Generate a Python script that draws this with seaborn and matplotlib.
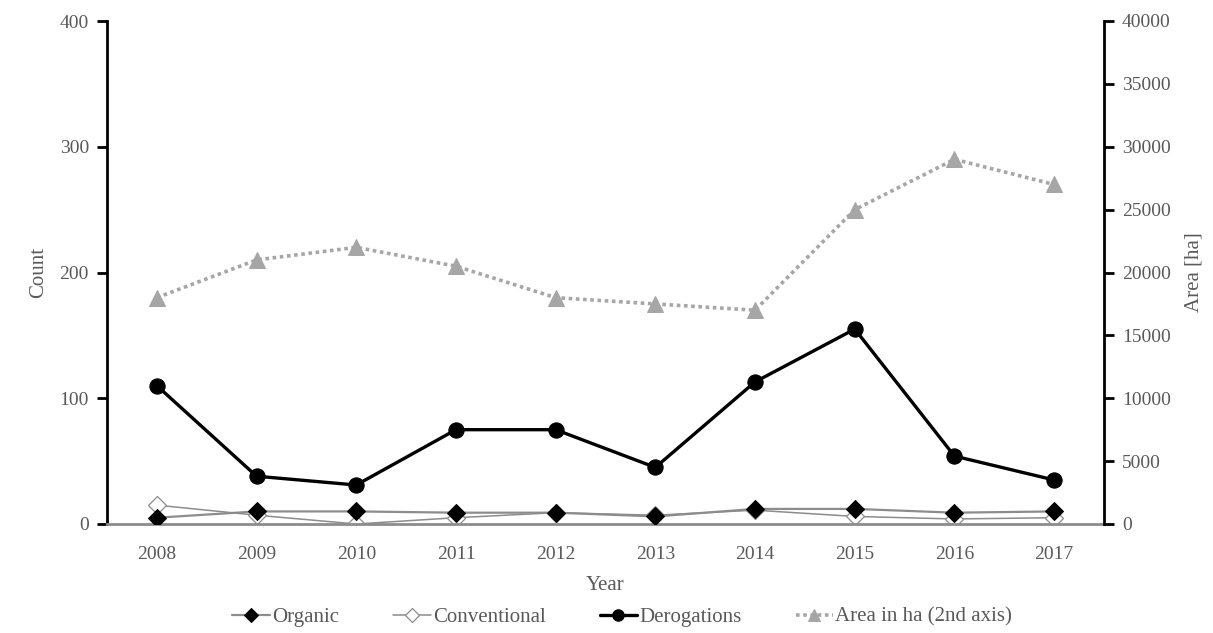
import matplotlib
matplotlib.use("Agg")
import matplotlib.pyplot as plt
import seaborn as sns
import pandas as pd

years = [2008, 2009, 2010, 2011, 2012, 2013, 2014, 2015, 2016, 2017]
organic = [5, 10, 10, 9, 9, 6, 12, 12, 9, 10]
conventional = [15, 7, 0, 5, 9, 7, 11, 6, 4, 5]
derogations = [110, 38, 31, 75, 75, 45, 113, 155, 54, 35]
area_ha = [18000, 21000, 22000, 20500, 18000, 17500, 17000, 25000, 29000, 27000]

sns.set_theme(style="white")
plt.rcParams["font.family"] = ["Liberation Serif", "DejaVu Serif"]
text_col = "#595959"
fs = 14

fig = plt.figure(figsize=(12.13, 6.33), dpi=100)
ax = fig.add_axes([107 / 1213, 1 - 524 / 633, (1104 - 107) / 1213, (524 - 21) / 633])
ax2 = ax.twinx()

df = pd.DataFrame({"Year": years, "Organic": organic, "Conventional": conventional,
                   "Derogations": derogations, "Area": area_ha})

sns.lineplot(data=df, x="Year", y="Organic", ax=ax, color="#8c8c8c", lw=1.6,
             marker="D", markersize=9, markerfacecolor="black", markeredgecolor="black",
             label="Organic", zorder=3)
sns.lineplot(data=df, x="Year", y="Conventional", ax=ax, color="#8c8c8c", lw=1.1,
             marker="D", markersize=9, markerfacecolor="white", markeredgecolor="#8c8c8c",
             markeredgewidth=0.9, label="Conventional", zorder=2)
sns.lineplot(data=df, x="Year", y="Derogations", ax=ax, color="black", lw=2.4,
             marker="o", markersize=11, markerfacecolor="black", markeredgecolor="black",
             label="Derogations", zorder=4)
sns.lineplot(data=df, x="Year", y="Area", ax=ax2, color="#a6a6a6", lw=2.6,
             linestyle=(0, (1, 1)), marker="^", markersize=11,
             markerfacecolor="#a6a6a6", markeredgecolor="#a6a6a6",
             label="Area in ha (2nd axis)", zorder=3)

ax.set_xlim(2007.5, 2017.5)
ax.set_ylim(0, 400)
ax2.set_ylim(0, 40000)
ax.set_xticks(years)
ax.set_yticks([0, 100, 200, 300, 400])
ax2.set_yticks(range(0, 40001, 5000))

ax.set_xlabel("Year", fontsize=fs + 1, color=text_col, labelpad=9)
ax.set_ylabel("Count", fontsize=fs + 1, color=text_col, labelpad=8)
ax2.set_ylabel("Area [ha]", fontsize=fs + 1, color=text_col, labelpad=10)

for a in (ax, ax2):
    a.spines["top"].set_visible(False)
    a.tick_params(axis="both", labelsize=fs, labelcolor=text_col)
    a.grid(False)

ax.spines["left"].set_color("black")
ax.spines["left"].set_linewidth(2)
ax.spines["right"].set_visible(False)
ax.spines["bottom"].set_color("#8c8c8c")
ax.spines["bottom"].set_linewidth(2)
ax2.spines["left"].set_visible(False)
ax2.spines["bottom"].set_visible(False)
ax2.spines["right"].set_color("black")
ax2.spines["right"].set_linewidth(2)

ax.tick_params(axis="y", direction="out", length=7, width=2, color="black", left=True, pad=6)
ax.tick_params(axis="x", length=0, pad=16)
ax2.tick_params(axis="y", direction="out", length=7, width=2, color="black", right=True, pad=6)

h1, l1 = ax.get_legend_handles_labels()
h2, l2 = ax2.get_legend_handles_labels()
ax.get_legend().remove()
ax2.get_legend().remove()
fig.legend(h1 + h2, l1 + l2, loc="center", bbox_to_anchor=(0.513, 1 - 617 / 633),
           ncol=4, frameon=False, fontsize=fs + 1, labelcolor=text_col, markerscale=0.75,
           handlelength=1.8, handletextpad=0.1, columnspacing=2.6)

fig.savefig("out.png", dpi=100)
